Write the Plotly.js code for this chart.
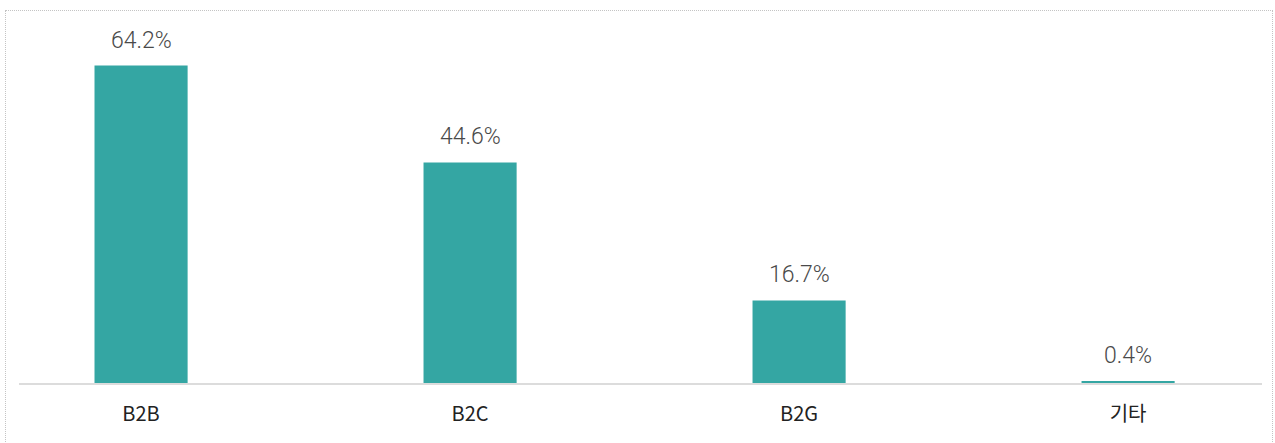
<!DOCTYPE html>
<html>
<head>
<meta charset="utf-8">
<script src="https://cdn.plot.ly/plotly-3.0.1.min.js"></script>
<style>
  html, body { margin: 0; padding: 0; background: #fff; }
  #wrap { position: relative; width: 1275px; height: 443px; overflow: hidden; }
  #frame { position: absolute; left: 5px; top: 10px; width: 1268px; height: 460px; border: 1px dotted #c4c4c4; box-sizing: border-box; pointer-events: none; }
  #chart { position: absolute; left: 0; top: 0; width: 1275px; height: 443px; }
</style>
</head>
<body>
<div id="wrap">
  <div id="chart"></div>
  <div id="frame"></div>
</div>
<script>
const categories = ["B2B", "B2C", "B2G", "기타"];
const values = [64.2, 44.6, 16.7, 0.4];
const valueLabels = ["64.2%", "44.6%", "16.7%", "0.4%"];

const trace = {
  type: "bar",
  x: categories,
  y: values,
  width: 0.283,
  marker: { color: "#34a6a3", line: { width: 0 } },
  hoverinfo: "skip"
};

const annotations = categories.map((c, i) => ({
  x: c, y: values[i], xref: "x", yref: "y",
  text: valueLabels[i], showarrow: false,
  yanchor: "bottom", yshift: 10,
  font: { family: "Roboto, 'Noto Sans CJK KR', sans-serif", size: 23, color: "#4a4a4a", weight: 300 }
}));

const layout = {
  width: 1275, height: 443,
  margin: { l: 19, r: 13, t: 20, b: 60 },
  paper_bgcolor: "rgba(0,0,0,0)",
  plot_bgcolor: "rgba(0,0,0,0)",
  showlegend: false,
  xaxis: {
    type: "category",
    range: [-0.371, 3.407],
    showgrid: false, zeroline: false,
    showline: true, linecolor: "#dcdcdc", linewidth: 2,
    ticks: "", ticklabelstandoff: 12,
    tickfont: { family: "'Noto Sans CJK KR', sans-serif", size: 20, color: "#222222" },
    fixedrange: true
  },
  yaxis: {
    range: [0, 73.4],
    visible: false, showgrid: false, zeroline: false,
    fixedrange: true
  },
  annotations: annotations
};

Plotly.newPlot("chart", [trace], layout, { displayModeBar: false, staticPlot: true });
</script>
</body>
</html>
